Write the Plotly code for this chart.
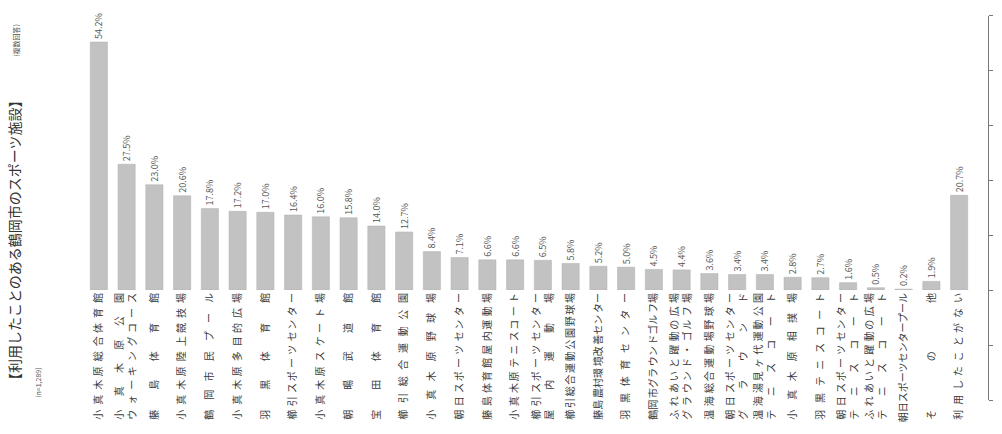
import plotly.graph_objects as go

# ---- data -------------------------------------------------------------
facilities = [
    "小真木原総合体育館",
    "小真木原公園|ウォーキングコース",
    "藤島体育館",
    "小真木原陸上競技場",
    "鶴岡市民プール",
    "小真木原多目的広場",
    "羽黒体育館",
    "櫛引スポーツセンター",
    "小真木原スケート場",
    "朝暘武道館",
    "宝田体育館",
    "櫛引総合運動公園",
    "小真木原野球場",
    "朝日スポーツセンター",
    "藤島体育館屋内運動場",
    "小真木原テニスコート",
    "櫛引スポーツセンター|屋内運動場",
    "櫛引総合運動公園野球場",
    "藤島農村環境改善センター",
    "羽黒体育センター",
    "鶴岡市グラウンドゴルフ場",
    "ふれあいと躍動の広場|グラウンド・ゴルフ場",
    "温海総合運動場野球場",
    "朝日スポーツセンター|グラウンド",
    "温海湯見ヶ代運動公園|テニスコート",
    "小真木原相撲場",
    "羽黒テニスコート",
    "朝日スポーツセンター|テニスコート",
    "ふれあいと躍動の広場|テニスコート",
    "朝日スポーツセンタープール",
    "その他",
    "利用したことがない",
]
percent = [54.2, 27.5, 23.0, 20.6, 17.8, 17.2, 17.0, 16.4, 16.0, 15.8,
           14.0, 12.7, 8.4, 7.1, 6.6, 6.6, 6.5, 5.8, 5.2, 5.0,
           4.5, 4.4, 3.6, 3.4, 3.4, 2.8, 2.7, 1.6, 0.5, 0.2,
           1.9, 20.7]

title_text = "【利用したことのある鶴岡市のスポーツ施設】"
note_multi = "(複数回答)"
note_n = "(n=1,289)"

# ---- justified tick labels (characters spread to equal length) ----------
SIXTH = "\u2006"      # six-per-em space
TARGET_EM = 12.6


def justify(line):
    n = len(line)
    if n <= 1:
        return line
    extra = max(TARGET_EM - n, 0)
    total = int(round(6 * extra))
    gaps = n - 1
    out = line[0]
    used = 0
    for i in range(1, n):
        want = int(round(total * i / gaps))
        out += SIXTH * (want - used) + line[i]
        used = want
    return out


tick_labels = ["<br>".join(justify(p) for p in name.split("|")) for name in facilities]
categories = [name.replace("|", "") for name in facilities]
value_text = [f"{v:.1f}%" for v in percent]

FONT = "Noto Sans CJK JP"

fig = go.Figure()
fig.add_trace(go.Bar(
    x=categories,
    y=percent,
    xaxis="x", yaxis="y",
    marker=dict(color="#c2c2c2", line=dict(color="#b0b0b0", width=0.5)),
    text=value_text,
    textposition="outside",
    textangle=-90,
    textfont=dict(family=FONT, size=9, color="#555555"),
    cliponaxis=False,
    constraintext="none",
    width=0.62,
    showlegend=False,
))

# faint right-hand scale (part of the scanned page)
fig.add_trace(go.Scatter(x=[0], y=[0], xaxis="x2", yaxis="y2", mode="markers",
                         marker=dict(opacity=0), showlegend=False, hoverinfo="skip"))

fig.update_layout(
    width=1002, height=434,
    margin=dict(l=85, r=12, t=10, b=34),
    paper_bgcolor="white", plot_bgcolor="white",
    font=dict(family=FONT, color="#444444"),
    xaxis=dict(
        domain=[0, 0.9834],
        tickmode="array", tickvals=categories, ticktext=tick_labels,
        tickangle=-90, tickfont=dict(family=FONT, size=10, color="#3a3a3a"),
        showline=False, showgrid=False, ticks="", automargin=False,
        anchor="y",
    ),
    yaxis=dict(
        domain=[0.282, 1], range=[0, 61.2], anchor="x",
        visible=False, showgrid=False, zeroline=False,
    ),
    xaxis2=dict(domain=[0.992, 1.0], anchor="y2", visible=False, range=[-1, 1]),
    yaxis2=dict(
        domain=[0, 0.985], range=[0, 7], anchor="x2", side="right",
        showline=True, linecolor="#777777", linewidth=1,
        ticks="outside", ticklen=4, tickcolor="#777777",
        dtick=1, showticklabels=False, showgrid=False, zeroline=False,
    ),
    bargap=0.38,
    annotations=[
        dict(text=title_text, xref="paper", yref="paper", x=-0.092, y=0.41,
             textangle=-90, showarrow=False,
             font=dict(family=FONT, size=14, color="#333333")),
        dict(text=note_multi, xref="paper", yref="paper", x=-0.085, y=0.969,
             textangle=-90, showarrow=False,
             font=dict(family=FONT, size=7, color="#555555")),
        dict(text=note_n, xref="paper", yref="paper", x=-0.06, y=0.0,
             textangle=-90, showarrow=False,
             font=dict(family=FONT, size=7, color="#555555")),
    ],
)

fig.write_html("out.html")
